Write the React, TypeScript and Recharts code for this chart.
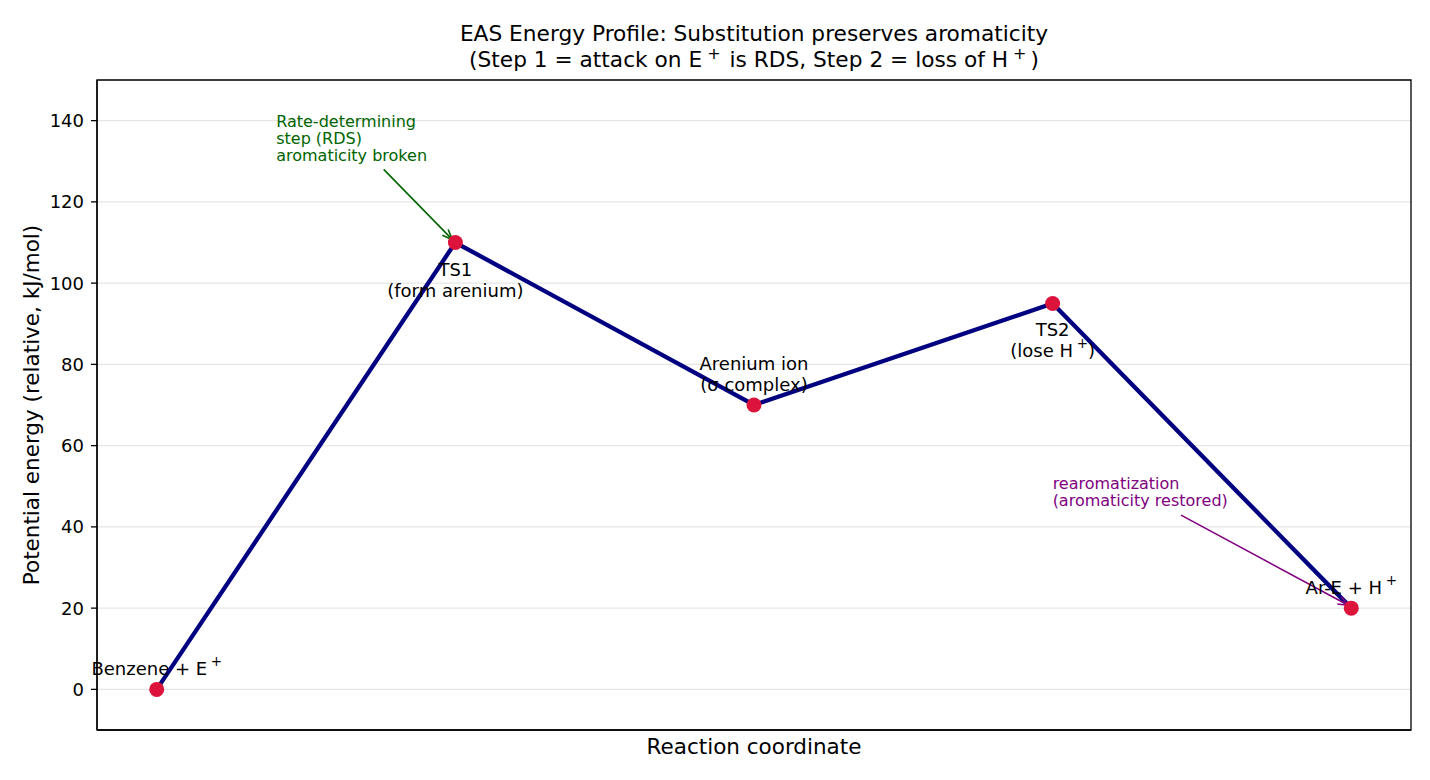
import React from 'react'
import { CartesianGrid, Label, LabelList, Line, LineChart, ReferenceArea, ReferenceDot, ReferenceLine, XAxis, YAxis } from 'recharts'

// reaction stages along the coordinate, '^+' marks a superscript plus
const stageLabels = ['Benzene + E^+', 'TS1\n(form arenium)', 'Arenium ion\n(σ complex)', 'TS2\n(lose H^+)', 'Ar-E + H^+']
const energies = [0, 110, 70, 95, 20]
const yTicks = [0, 20, 40, 60, 80, 100, 120, 140]

// notes with arrows, in data coordinates
const rdsNote = ['Rate-determining', 'step (RDS)', 'aromaticity broken']
const rdsTextAt = { x: 0.4, y: 130 }
const rdsArrow = { from: { x: 0.76, y: 128 }, to: { x: 0.99, y: 110.7 } }
const rearomNote = ['rearomatization', '(aromaticity restored)']
const rearomTextAt = { x: 3.0, y: 45 }
const rearomArrow = { from: { x: 3.43, y: 42.9 }, to: { x: 3.99, y: 20.7 } }

const labelBelow = [false, true, false, true, false]

const data = stageLabels.map((label, i) => ({ step: i, energy: energies[i], label }))

const FONT = '"DejaVu Sans", Verdana, sans-serif'

function richText(text: string, size: number) {
  const parts = text.split('^+')
  const out: React.ReactNode[] = []
  const rise = size * 0.42
  parts.forEach((part, i) => {
    if (part) out.push(<tspan key={'t' + i} dy={i > 0 ? rise : undefined}>{part}</tspan>)
    if (i < parts.length - 1) {
      out.push(<tspan key={'s' + i} dx={size * 0.2} dy={-rise} fontSize={size * 0.75}>+</tspan>)
    }
  })
  return out
}

function StageLabel(props: any) {
  const x = props.x ?? props.viewBox?.x
  const y = props.y ?? props.viewBox?.y
  const idx = stageLabels.indexOf(props.value)
  if (idx < 0 || x == null) return null
  const lines = stageLabels[idx].split('\n')
  const below = labelBelow[idx]
  return (
    <g>
      {lines.map((ln, k) => {
        const cy = below ? y + 26 + k * 21 : y - 21 - (lines.length - 1 - k) * 21
        return (
          <text key={k} x={x} y={cy} textAnchor="middle" dominantBaseline="central" fontSize={18} fill="#000" fontFamily={FONT}>
            {richText(ln, 18)}
          </text>
        )
      })}
    </g>
  )
}

function noteShape(lines: string[], color: string) {
  return (props: any) => {
    const { cx, cy } = props
    return (
      <g>
        {lines.map((ln, k) => (
          <text key={k} x={cx} y={cy - 6 - (lines.length - 1 - k) * 17} dominantBaseline="central" fontSize={16} fill={color} fontFamily={FONT}>
            {ln}
          </text>
        ))}
      </g>
    )
  }
}

function arrowShape(color: string) {
  return (props: any) => {
    const { x1, y1, x2, y2 } = props
    const ang = Math.atan2(y2 - y1, x2 - x1)
    const len = 11
    const spread = 0.38
    const ax = x2 - len * Math.cos(ang - spread)
    const ay = y2 - len * Math.sin(ang - spread)
    const bx = x2 - len * Math.cos(ang + spread)
    const by = y2 - len * Math.sin(ang + spread)
    return (
      <g>
        <line x1={x1} y1={y1} x2={x2} y2={y2} stroke={color} strokeWidth={1.6} />
        <path d={`M${ax},${ay} L${x2},${y2} L${bx},${by}`} fill="none" stroke={color} strokeWidth={1.6} />
      </g>
    )
  }
}

const supStyle: React.CSSProperties = { fontSize: 16, position: 'relative', top: -8, marginLeft: 5, marginRight: 9 }

export default function App() {
  return (
    <div style={{ position: 'absolute', left: 0, top: 0, width: 1430, height: 780, background: '#fff', fontFamily: FONT }}>
      <div style={{ position: 'absolute', left: 97, width: 1314, top: 21, textAlign: 'center', fontSize: 21.7, lineHeight: '26px', color: '#000' }}>
        <div>EAS Energy Profile: Substitution preserves aromaticity</div>
        <div>
          (Step 1 = attack on E<span style={supStyle}>+</span>is RDS, Step 2 = loss of H<span style={{ ...supStyle, marginRight: 4 }}>+</span>)
        </div>
      </div>
      <LineChart width={1430} height={780} data={data} margin={{ top: 80, right: 19, bottom: 0, left: 0 }} style={{ position: 'absolute', left: 0, top: 0 }}>
        <CartesianGrid vertical={false} stroke="#e6e6e6" strokeWidth={1.2} />
        <XAxis type="number" dataKey="step" domain={[-0.2, 4.2]} allowDataOverflow tick={false} tickLine={false} height={50} axisLine={{ stroke: '#000', strokeWidth: 1.3 }}>
          <Label
            content={(p: any) => {
              const vb = p.viewBox || { x: 97, y: 730, width: 1314 }
              return (
                <text x={vb.x + vb.width / 2} y={vb.y + 16} textAnchor="middle" dominantBaseline="central" fontSize={21.5} fill="#000" fontFamily={FONT}>
                  Reaction coordinate
                </text>
              )
            }}
          />
        </XAxis>
        <YAxis
          type="number"
          domain={[-10, 150]}
          allowDataOverflow
          ticks={yTicks}
          interval={0}
          width={97}
          tickSize={6}
          tickMargin={7}
          tick={{ fontSize: 18, fill: '#000', fontFamily: FONT }}
          tickLine={{ stroke: '#000', strokeWidth: 1.3 }}
          axisLine={{ stroke: '#000', strokeWidth: 1.3 }}
        >
          <Label
            content={(p: any) => {
              const vb = p.viewBox || { x: 0, y: 80, width: 97, height: 650 }
              const cx = vb.x + 31
              const cy = vb.y + vb.height / 2
              return (
                <text x={cx} y={cy} transform={`rotate(-90 ${cx} ${cy})`} textAnchor="middle" dominantBaseline="central" fontSize={21.5} fill="#000" fontFamily={FONT}>
                  Potential energy (relative, kJ/mol)
                </text>
              )
            }}
          />
        </YAxis>
        <ReferenceArea x1={-0.2} x2={4.2} y1={-10} y2={150} fill="none" stroke="#000" strokeWidth={1.3} ifOverflow="visible" />
        <Line
          dataKey="energy"
          stroke="#000080"
          strokeWidth={4.3}
          dot={{ r: 7.5, fill: '#DC143C', stroke: 'none' }}
          activeDot={false}
          isAnimationActive={false}
        >
          <LabelList dataKey="label" content={StageLabel} />
        </Line>
        <ReferenceLine segment={[rdsArrow.from, rdsArrow.to]} shape={arrowShape('#006400')} ifOverflow="visible" />
        <ReferenceLine segment={[rearomArrow.from, rearomArrow.to]} shape={arrowShape('#800080')} ifOverflow="visible" />
        <ReferenceDot x={rdsTextAt.x} y={rdsTextAt.y} r={0} shape={noteShape(rdsNote, '#006400')} ifOverflow="visible" />
        <ReferenceDot x={rearomTextAt.x} y={rearomTextAt.y} r={0} shape={noteShape(rearomNote, '#800080')} ifOverflow="visible" />
      </LineChart>
    </div>
  )
}
